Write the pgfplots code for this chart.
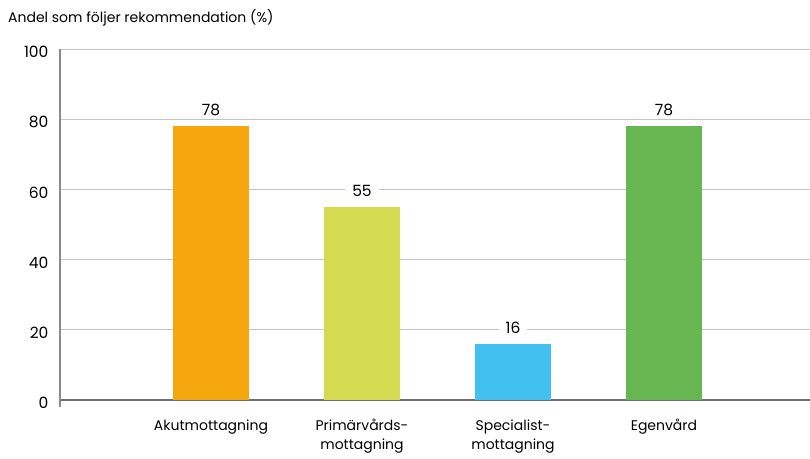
\documentclass[border=0pt]{standalone}
\usepackage{pgfplots}
\pgfplotsset{compat=1.18}
\usepackage{fontspec}
\setmainfont{Poppins}
\definecolor{cA}{HTML}{F6A70D}
\definecolor{cB}{HTML}{D4DB50}
\definecolor{cC}{HTML}{42C0EF}
\definecolor{cD}{HTML}{66B651}
\definecolor{gridc}{HTML}{C4C4C4}
\definecolor{xax}{HTML}{6E6E6E}
\definecolor{yax}{HTML}{8A8A8A}
\begin{document}
\begin{tikzpicture}
\useasboundingbox (-60pt,-58pt) rectangle (750pt,400pt);
\begin{axis}[
  scale only axis, width=750pt, height=351pt,
  xmin=0, xmax=4.967, ymin=0, ymax=100,
  axis x line*=bottom, axis y line*=left,
  x axis line style={-, color=xax, line width=1.6pt},
  y axis line style={-, color=yax, line width=1.2pt},
  ytick={0,20,...,100},
  ymajorgrids, grid style={color=gridc, line width=0.9pt},
  xtick={1,2,3,4},
  xticklabels={Akutmottagning, {Primärvårds-\\mottagning}, {Specialist-\\mottagning}, Egenvård},
  xticklabel style={align=center, font=\fontsize{14}{19}\selectfont, yshift=-16pt},
  yticklabel style={font=\fontsize{15.5}{18}\selectfont, xshift=-8pt, yshift=-3pt},
  /pgf/number format/assume math mode=true,
  major tick length=0pt,
  nodes near coords,
  every node near coord/.style={fill=white, inner xsep=7pt, inner ysep=2pt, anchor=center, yshift=16pt, font=\fontsize{15.5}{18}\selectfont, text=black},
  clip=false,
]
\addplot[ybar, bar width=76pt, fill=cA, draw=none] coordinates {(1,78)};
\addplot[ybar, bar width=76pt, fill=cB, draw=none] coordinates {(2,55)};
\addplot[ybar, bar width=76pt, fill=cC, draw=none] coordinates {(3,16)};
\addplot[ybar, bar width=76pt, fill=cD, draw=none] coordinates {(4,78)};
\draw[color=yax, line width=1.2pt] (axis cs:0,0) -- ++(0,-7pt);
\node[anchor=west, font=\fontsize{14}{17}\selectfont, inner sep=0pt] at ([xshift=-52pt, yshift=31pt]rel axis cs:0,1) {Andel som följer rekommendation (\%)};
\end{axis}
\end{tikzpicture}
\end{document}
